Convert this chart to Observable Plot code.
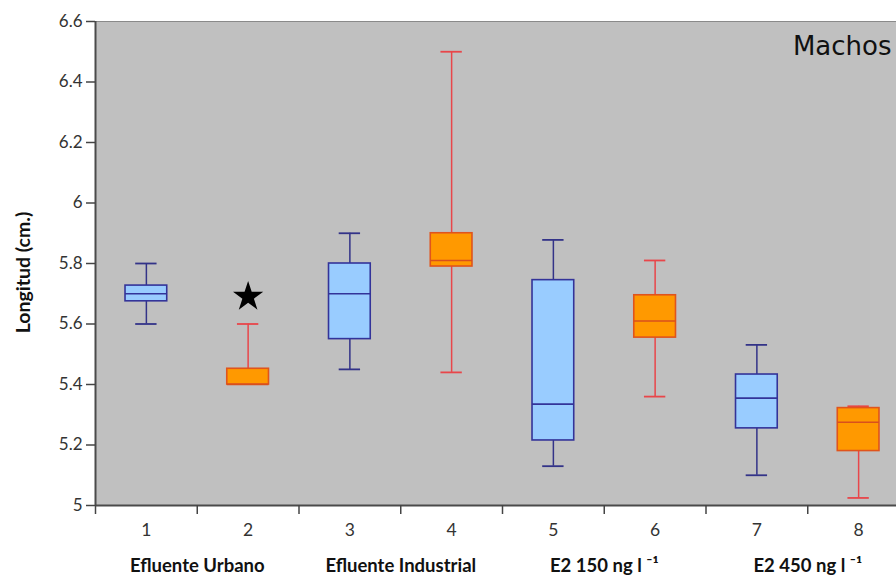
<!DOCTYPE html>
<html>
<head>
<meta charset="utf-8">
<script src="https://cdn.jsdelivr.net/npm/d3@7"></script>
<script src="https://cdn.jsdelivr.net/npm/@observablehq/plot@0.6"></script>
<style>
  html, body { margin: 0; padding: 0; background: #fff; }
  #chart svg { display: block; }
</style>
</head>
<body>
<div id="chart"></div>
<script>
// ---- data ----
const groups   = [1, 2, 3, 4, 5, 6, 7, 8];
const kinds    = ["blue", "orange", "blue", "orange", "blue", "orange", "blue", "orange"];
const whiskLo  = [5.60, 5.40, 5.45, 5.44, 5.13, 5.36, 5.10, 5.025];
const q1       = [5.675, 5.40, 5.55, 5.79, 5.215, 5.555, 5.255, 5.18];
const medians  = [5.70, 5.40, 5.70, 5.81, 5.335, 5.61, 5.355, 5.275];
const q3       = [5.727, 5.452, 5.80, 5.90, 5.745, 5.695, 5.433, 5.322];
const whiskHi  = [5.80, 5.60, 5.90, 6.50, 5.878, 5.81, 5.531, 5.328];
const starMarks = [{g: 2, v: 5.69}];
const yTicks      = [5, 5.2, 5.4, 5.6, 5.8, 6, 6.2, 6.4, 6.6];
const yTickLabels = ["5", "5.2", "5.4", "5.6", "5.8", "6", "6.2", "6.4", "6.6"];
const groupTicks  = [1.5, 3.5, 5.5, 7.5];
const groupLabels = ["Efluente Urbano", "Efluente Industrial", "E2 150 ng l \u207B\u00B9", "E2 450 ng l \u207B\u00B9"];
const bandEdges   = [0.5, 1.5, 2.5, 3.5, 4.5, 5.5, 6.5, 7.5, 8.5];
const yTitle = "Longitud (cm.)";
const panelTitle = "Machos";

const rows = groups.map((g, i) => ({
  g, kind: kinds[i], lo: whiskLo[i], q1: q1[i], med: medians[i], q3: q3[i], hi: whiskHi[i]
}));

const style = {
  blue:   {fill: "#99ccff", stroke: "#333399", whisker: "#333388", median: "#333399"},
  orange: {fill: "#ff9900", stroke: "#e0541c", whisker: "#e8464a", median: "#d9501c"}
};
const boxHalf = 0.205, capHalf = 0.105;

const chart = Plot.plot({
  width: 896,
  height: 576,
  marginTop: 21,
  marginBottom: 71,
  marginLeft: 95,
  marginRight: 0,
  style: {fontFamily: "Lato, 'Open Sans', sans-serif", background: "#fff"},
  x: {domain: [0.5, 8.5], range: [95, 909], axis: null},
  y: {domain: [5, 6.6], axis: null},
  marks: [
    Plot.frame({fill: "#c0c0c0", stroke: "#8a8a8a", strokeWidth: 1}),
    // whiskers
    Plot.ruleX(rows, {x: "g", y1: "q3", y2: "hi", stroke: d => style[d.kind].whisker, strokeWidth: 1.5}),
    Plot.ruleX(rows.filter(d => d.lo < d.q1), {x: "g", y1: "lo", y2: "q1", stroke: d => style[d.kind].whisker, strokeWidth: 1.5}),
    // caps
    Plot.ruleY(rows, {y: "hi", x1: d => d.g - capHalf, x2: d => d.g + capHalf, stroke: d => style[d.kind].whisker, strokeWidth: 1.8}),
    Plot.ruleY(rows.filter(d => d.lo < d.q1), {y: "lo", x1: d => d.g - capHalf, x2: d => d.g + capHalf, stroke: d => style[d.kind].whisker, strokeWidth: 1.8}),
    // boxes
    Plot.rect(rows, {x1: d => d.g - boxHalf, x2: d => d.g + boxHalf, y1: "q1", y2: "q3",
      fill: d => style[d.kind].fill, stroke: d => style[d.kind].stroke, strokeWidth: 1.6}),
    // medians
    Plot.ruleY(rows, {y: "med", x1: d => d.g - boxHalf, x2: d => d.g + boxHalf, stroke: d => style[d.kind].median, strokeWidth: 1.6}),
    // significance star
    Plot.dot(starMarks, {x: "g", y: "v", symbol: "star", r: 9.5, fill: "#000", stroke: "none"}),
    // axis lines
    Plot.ruleX([0.5], {stroke: "#4a4a4a", strokeWidth: 2}),
    Plot.ruleY([5], {stroke: "#4a4a4a", strokeWidth: 2}),
    // y axis
    Plot.axisY(yTicks, {anchor: "left", tickSize: 9, tickPadding: 4, tickFormat: (d, i) => yTickLabels[i],
      fontSize: 17, stroke: "#444", fill: "#333", strokeWidth: 1.5, label: null}),
    // x band ticks
    Plot.axisX(bandEdges, {anchor: "bottom", tickSize: 9, tickFormat: () => "", stroke: "#444", strokeWidth: 1.5, label: null}),
    // x category numbers
    Plot.axisX(groups, {anchor: "bottom", tickSize: 0, tickPadding: 18, fontSize: 17.5, fill: "#333", label: null}),
    // group labels
    Plot.axisX(groupTicks, {anchor: "bottom", tickSize: 0, tickPadding: 53, tickFormat: (d, i) => groupLabels[i],
      fontSize: 18.5, fontWeight: "bold", fill: "#111", label: null}),
    // y title
    Plot.text([yTitle], {frameAnchor: "left", textAnchor: "middle", dx: -72, dy: 9, rotate: -90, fontSize: 19.5, fontWeight: "bold", fill: "#111"}),
    // panel title
    Plot.text([panelTitle], {frameAnchor: "top-right", textAnchor: "end", lineAnchor: "middle", dx: -5, dy: 25,
      fontSize: 26, fontFamily: "'DejaVu Sans', sans-serif", fill: "#111"})
  ]
});
document.getElementById("chart").appendChild(chart);
</script>
</body>
</html>
